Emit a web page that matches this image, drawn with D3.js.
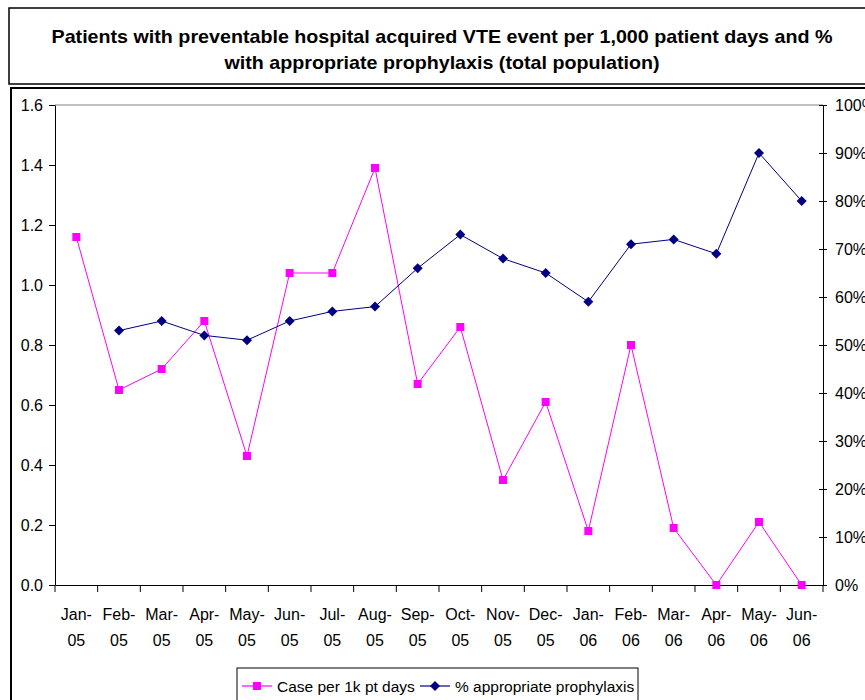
<!DOCTYPE html>
<html>
<head>
<meta charset="utf-8">
<script src="https://cdn.jsdelivr.net/npm/d3@7"></script>
<style>
  body { margin: 0; background: #fff; }
  svg { display: block; font-family: "Liberation Sans", Arial, sans-serif; }
</style>
</head>
<body>
<div id="chart"></div>
<script>
// data
const months = ["Jan-05","Feb-05","Mar-05","Apr-05","May-05","Jun-05","Jul-05","Aug-05","Sep-05",
                "Oct-05","Nov-05","Dec-05","Jan-06","Feb-06","Mar-06","Apr-06","May-06","Jun-06"];
const casesPer1k = [1.16,0.65,0.72,0.88,0.43,1.04,1.04,1.39,0.67,0.86,0.35,0.61,0.18,0.80,0.19,0.00,0.21,0.00];
const pctProphylaxis = [null,0.53,0.55,0.52,0.51,0.55,0.57,0.58,0.66,0.73,0.68,0.65,0.59,0.71,0.72,0.69,0.90,0.80];
const leftTicks = [0,0.2,0.4,0.6,0.8,1.0,1.2,1.4,1.6];
const rightTicks = [0,0.1,0.2,0.3,0.4,0.5,0.6,0.7,0.8,0.9,1.0];
const titleLines = ["Patients with preventable hospital acquired VTE event per 1,000 patient days and %",
                    "with appropriate prophylaxis (total population)"];
const seriesNames = ["Case per 1k pt days", "% appropriate prophylaxis"];

const W = 865, H = 700;
const plot = {left: 55, right: 823, top: 105, bottom: 585};
const pink = "#ff00ff", navy = "#000080";

const svg = d3.select("#chart").append("svg").attr("width", W).attr("height", H);

// title box + chart box
svg.append("rect").attr("x", 9).attr("y", 8).attr("width", 870).attr("height", 76)
  .attr("fill", "#fff").attr("stroke", "#000").attr("stroke-width", 1.5);
svg.append("rect").attr("x", 11).attr("y", 88).attr("width", 870).attr("height", 630)
  .attr("fill", "#fff").attr("stroke", "#000").attr("stroke-width", 2);

const titleWidths = [781, 435];
svg.selectAll("text.title").data(titleLines).join("text")
  .attr("class", "title")
  .attr("x", 442).attr("y", (d, i) => 43 + i * 26)
  .attr("text-anchor", "middle")
  .attr("font-size", 19).attr("font-weight", "bold")
  .attr("textLength", (d, i) => titleWidths[i]).attr("lengthAdjust", "spacingAndGlyphs")
  .text(d => d);

// scales
const x = d3.scaleBand().domain(months).range([plot.left, plot.right]);
const xc = d => x(d) + x.bandwidth() / 2;
const yL = d3.scaleLinear().domain([0, 1.6]).range([plot.bottom, plot.top]);
const yR = d3.scaleLinear().domain([0, 1]).range([plot.bottom, plot.top]);

// plot top border
svg.append("line").attr("x1", plot.left).attr("x2", plot.right)
  .attr("y1", plot.top).attr("y2", plot.top).attr("stroke", "#808080");

// left axis
const gL = svg.append("g").attr("transform", `translate(${plot.left},0)`)
  .call(d3.axisLeft(yL).tickValues(leftTicks).tickFormat(d3.format(".1f")).tickSizeInner(6).tickSizeOuter(0).tickPadding(6));

// right axis
const gR = svg.append("g").attr("transform", `translate(${plot.right},0)`)
  .call(d3.axisRight(yR).tickValues(rightTicks).tickFormat(d3.format(".0%")).tickSizeInner(4).tickSizeOuter(0).tickPadding(8));
gR.selectAll(".tick line").attr("x1", -4);

// bottom axis with two-line labels (month on the first line, year on the second)
const gB = svg.append("g").attr("transform", `translate(0,${plot.bottom})`)
  .call(d3.axisBottom(x).tickSize(0).tickSizeOuter(0).tickFormat(""));
gB.selectAll(".tick text").remove();
gB.selectAll(".tick").each(function(d) {
  const parts = d.split("-");
  const t = d3.select(this);
  t.append("text").attr("y", 35).attr("text-anchor", "middle").text(parts[0] + "-");
  t.append("text").attr("y", 61).attr("text-anchor", "middle").text(parts[1]);
});
gB.selectAll("line.sep").data(months.concat(["end"])).join("line")
  .attr("class", "sep")
  .attr("x1", (d, i) => i < months.length ? x(d) : plot.right)
  .attr("x2", (d, i) => i < months.length ? x(d) : plot.right)
  .attr("y1", 0).attr("y2", 7).attr("stroke", "#000");

[gL, gR, gB].forEach(g => {
  g.selectAll("text").attr("font-size", 16).attr("fill", "#000")
    .attr("font-family", "'Liberation Sans', Arial, sans-serif");
  g.selectAll("path, line").attr("stroke", "#000");
});

// series
const linePink = d3.line().x((d, i) => xc(months[i])).y(d => yL(d));
svg.append("path").datum(casesPer1k).attr("d", linePink)
  .attr("fill", "none").attr("stroke", pink).attr("stroke-width", 1);
svg.selectAll("rect.pt").data(casesPer1k).join("rect").attr("class", "pt")
  .attr("x", (d, i) => xc(months[i]) - 4).attr("y", d => yL(d) - 4)
  .attr("width", 8).attr("height", 8).attr("fill", pink);

const lineNavy = d3.line().defined(d => d != null).x((d, i) => xc(months[i])).y(d => yR(d));
svg.append("path").datum(pctProphylaxis).attr("d", lineNavy)
  .attr("fill", "none").attr("stroke", navy).attr("stroke-width", 1);
const diamond = "M0,-5L5,0L0,5L-5,0Z";
svg.selectAll("path.dm").data(pctProphylaxis.map((v, i) => [v, i]).filter(d => d[0] != null)).join("path")
  .attr("class", "dm").attr("d", diamond)
  .attr("transform", d => `translate(${xc(months[d[1]])},${yR(d[0])})`).attr("fill", navy);

// legend
const lg = svg.append("g");
lg.append("rect").attr("x", 237).attr("y", 668).attr("width", 401).attr("height", 50)
  .attr("fill", "#fff").attr("stroke", "#000").attr("stroke-width", 1);
const legendItems = [
  {name: seriesNames[0], color: pink, x0: 242, marker: "square"},
  {name: seriesNames[1], color: navy, x0: 420, marker: "diamond"}
];
legendItems.forEach(it => {
  lg.append("line").attr("x1", it.x0).attr("x2", it.x0 + 30).attr("y1", 686).attr("y2", 686)
    .attr("stroke", it.color).attr("stroke-width", 1.2);
  if (it.marker === "square")
    lg.append("rect").attr("x", it.x0 + 11).attr("y", 682).attr("width", 8).attr("height", 8).attr("fill", it.color);
  else
    lg.append("path").attr("d", diamond).attr("transform", `translate(${it.x0 + 15},686)`).attr("fill", it.color);
  lg.append("text").attr("x", it.x0 + 35).attr("y", 692).attr("font-size", 15.5).text(it.name);
});
</script>
</body>
</html>
